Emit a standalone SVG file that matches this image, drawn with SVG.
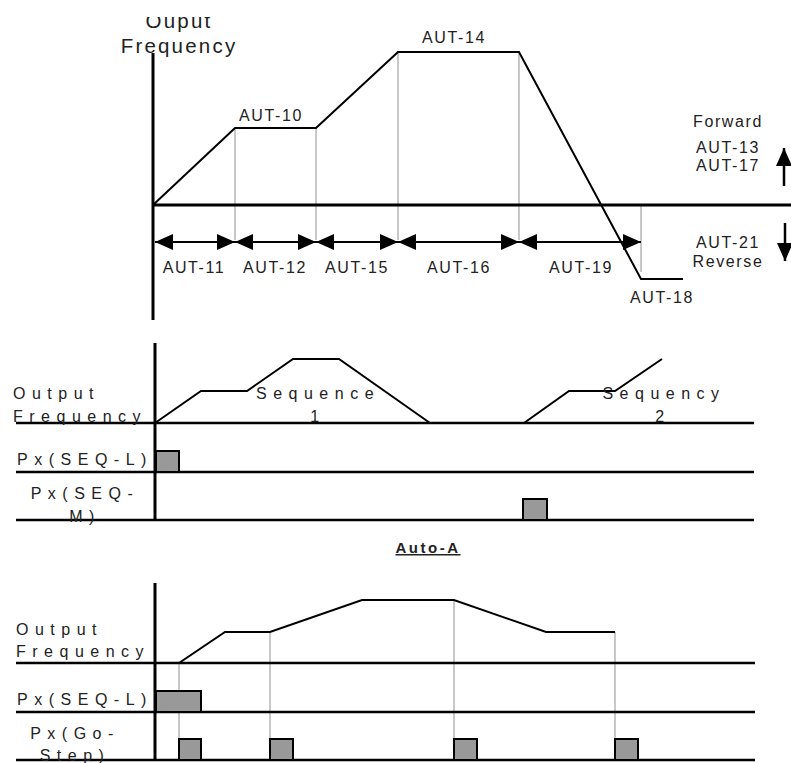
<svg xmlns="http://www.w3.org/2000/svg" width="791" height="763" viewBox="0 0 791 763">
<style>
text{font-family:"Liberation Sans",Arial,sans-serif;fill:#222}
.lbl{font-size:16px;letter-spacing:1.6px;text-anchor:middle}
.ttl{font-size:20.5px;letter-spacing:2.2px;text-anchor:middle}
.sp{font-size:16px;letter-spacing:6.5px}
.spc{font-size:16px;letter-spacing:6.5px;text-anchor:middle}
.axis{stroke:#000;stroke-width:3;fill:none}
.base{stroke:#000;stroke-width:2.5;fill:none}
.curve{stroke:#000;stroke-width:2;fill:none;stroke-linejoin:miter}
.guide{stroke:#c8c8c8;stroke-width:2;fill:none}
.dim{stroke:#000;stroke-width:2;fill:none;marker-start:url(#ah);marker-end:url(#ah)}
.arr{stroke:#000;stroke-width:2.5;fill:none;marker-end:url(#ah)}
.pulse{fill:#999;stroke:#000;stroke-width:2}
</style>
<defs>
<marker id="ah" viewBox="0 0 18 16" refX="18" refY="8" markerWidth="18" markerHeight="16" markerUnits="userSpaceOnUse" orient="auto-start-reverse">
<path d="M0,0 L18,8 L0,16 Z" fill="#000"/>
</marker>
<clipPath id="clipTop"><rect x="0" y="17" width="791" height="746"/></clipPath>
</defs>
<rect width="791" height="763" fill="#fff"/>

<g id="connectors">
<!-- top chart -->
<polyline class="guide" points="235,128 235,240"/>
<polyline class="guide" points="316,128 316,240"/>
<polyline class="guide" points="398,52 398,240"/>
<polyline class="guide" points="519,52 519,240"/>
<polyline class="guide" points="641,205 641,272"/>
<line class="axis" x1="153" y1="53" x2="153" y2="320"/>
<line class="axis" x1="153" y1="205" x2="791" y2="205"/>
<polyline class="curve" points="153,205 235,128 316,128 398,52 519,52 641,279 683,279"/>
<line class="dim" x1="155" y1="242" x2="235" y2="242"/>
<line class="dim" x1="235" y1="242" x2="316" y2="242"/>
<line class="dim" x1="316" y1="242" x2="398" y2="242"/>
<line class="dim" x1="398" y1="242" x2="519" y2="242"/>
<line class="dim" x1="519" y1="242" x2="641" y2="242"/>
<line class="arr" x1="784" y1="186" x2="784" y2="148"/>
<line class="arr" x1="785" y1="223" x2="785" y2="261"/>

<!-- middle chart -->
<line class="axis" x1="155" y1="343" x2="155" y2="520"/>
<line class="base" x1="16" y1="423" x2="754" y2="423"/>
<line class="base" x1="16" y1="472" x2="754" y2="472"/>
<line class="base" x1="16" y1="520" x2="754" y2="520"/>
<polyline class="curve" points="155,423 201,391 247,391 293,359 339,359 430,423"/>
<polyline class="curve" points="524,423 569,391 615,391 662,359"/>

<!-- bottom chart -->
<polyline class="guide" points="179,663 179,740"/>
<polyline class="guide" points="270,632 270,740"/>
<polyline class="guide" points="454,600 454,740"/>
<polyline class="guide" points="615,632 615,740"/>
<line class="axis" x1="155" y1="583" x2="155" y2="760"/>
<line class="base" x1="16" y1="663" x2="755" y2="663"/>
<line class="base" x1="16" y1="712" x2="755" y2="712"/>
<line class="base" x1="16" y1="760" x2="755" y2="760"/>
<polyline class="curve" points="179,663 225,632 270,632 362,600 454,600 546,632 615,632"/>
</g>

<g id="top-labels">
<g clip-path="url(#clipTop)"><text class="ttl" x="179" y="28">Ouput</text></g>
<text class="ttl" x="179" y="53">Frequency</text>
<text class="lbl" x="271" y="121">AUT-10</text>
<text class="lbl" x="454" y="43">AUT-14</text>
<text class="lbl" x="728" y="127">Forward</text>
<text class="lbl" x="728" y="153">AUT-13</text>
<text class="lbl" x="728" y="171">AUT-17</text>
<text class="lbl" x="728" y="248">AUT-21</text>
<text class="lbl" x="728" y="267">Reverse</text>
<text class="lbl" x="662" y="303">AUT-18</text>
<text class="lbl" x="194" y="273">AUT-11</text>
<text class="lbl" x="275" y="273">AUT-12</text>
<text class="lbl" x="357" y="273">AUT-15</text>
<text class="lbl" x="459" y="273">AUT-16</text>
<text class="lbl" x="581" y="273">AUT-19</text>
</g>

<g id="sequence-chart">
<text class="sp" x="13" y="399">Output</text>
<text class="sp" x="13" y="422">Frequency</text>
<text class="spc" x="318" y="399">Sequence</text>
<text class="spc" x="318" y="422">1</text>
<text class="spc" x="664" y="399">Sequency</text>
<text class="spc" x="663" y="422">2</text>
<text class="spc" x="85" y="465">Px(SEQ-L)</text>
<text class="spc" x="85" y="499">Px(SEQ-</text>
<text class="spc" x="85" y="522">M)</text>
<rect class="pulse" x="156" y="451" width="23" height="21"/>
<rect class="pulse" x="523" y="499" width="24" height="21"/>
</g>

<g id="auto-a-title">
<text x="428" y="553" font-size="15" font-weight="bold" letter-spacing="2.5" text-anchor="middle" text-decoration="underline">Auto-A</text>
</g>

<g id="auto-a-chart">
<text class="sp" x="16" y="635">Output</text>
<text class="sp" x="16" y="657">Frequency</text>
<text class="spc" x="85" y="705">Px(SEQ-L)</text>
<text class="spc" x="75" y="739">Px(Go-</text>
<text class="spc" x="75" y="761">Step)</text>
<rect class="pulse" x="156" y="691" width="45" height="21"/>
<rect class="pulse" x="179" y="739" width="22" height="21"/>
<rect class="pulse" x="270" y="739" width="23" height="21"/>
<rect class="pulse" x="454" y="739" width="23" height="21"/>
<rect class="pulse" x="615" y="739" width="23" height="21"/>
</g>
</svg>
